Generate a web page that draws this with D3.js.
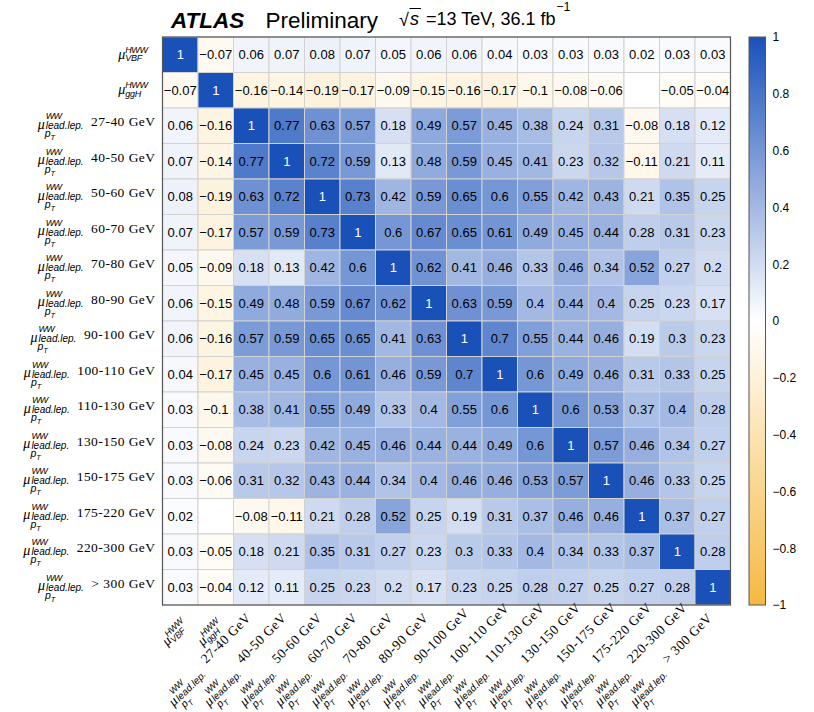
<!DOCTYPE html>
<html>
<head>
<meta charset="utf-8">
<script src="https://cdn.jsdelivr.net/npm/d3@7"></script>
<style>
  html, body { margin: 0; padding: 0; background: #fff; }
  svg { display: block; }
</style>
</head>
<body>
<svg id="chart" width="814" height="712"></svg>
<script>
// Parameters of the fit: two signal strengths, then the leading-lepton pT bins.
const signalParams = ["VBF", "ggH"];
const ptBins = ["27-40 GeV", "40-50 GeV", "50-60 GeV", "60-70 GeV", "70-80 GeV",
  "80-90 GeV", "90-100 GeV", "100-110 GeV", "110-130 GeV", "130-150 GeV",
  "150-175 GeV", "175-220 GeV", "220-300 GeV", "> 300 GeV"];

// Correlation coefficients, one row per parameter (null = empty cell).
const corrRows = [
  [1, -0.07, 0.06, 0.07, 0.08, 0.07, 0.05, 0.06, 0.06, 0.04, 0.03, 0.03, 0.03, 0.02, 0.03, 0.03],
  [-0.07, 1, -0.16, -0.14, -0.19, -0.17, -0.09, -0.15, -0.16, -0.17, -0.1, -0.08, -0.06, null, -0.05, -0.04],
  [0.06, -0.16, 1, 0.77, 0.63, 0.57, 0.18, 0.49, 0.57, 0.45, 0.38, 0.24, 0.31, -0.08, 0.18, 0.12],
  [0.07, -0.14, 0.77, 1, 0.72, 0.59, 0.13, 0.48, 0.59, 0.45, 0.41, 0.23, 0.32, -0.11, 0.21, 0.11],
  [0.08, -0.19, 0.63, 0.72, 1, 0.73, 0.42, 0.59, 0.65, 0.6, 0.55, 0.42, 0.43, 0.21, 0.35, 0.25],
  [0.07, -0.17, 0.57, 0.59, 0.73, 1, 0.6, 0.67, 0.65, 0.61, 0.49, 0.45, 0.44, 0.28, 0.31, 0.23],
  [0.05, -0.09, 0.18, 0.13, 0.42, 0.6, 1, 0.62, 0.41, 0.46, 0.33, 0.46, 0.34, 0.52, 0.27, 0.2],
  [0.06, -0.15, 0.49, 0.48, 0.59, 0.67, 0.62, 1, 0.63, 0.59, 0.4, 0.44, 0.4, 0.25, 0.23, 0.17],
  [0.06, -0.16, 0.57, 0.59, 0.65, 0.65, 0.41, 0.63, 1, 0.7, 0.55, 0.44, 0.46, 0.19, 0.3, 0.23],
  [0.04, -0.17, 0.45, 0.45, 0.6, 0.61, 0.46, 0.59, 0.7, 1, 0.6, 0.49, 0.46, 0.31, 0.33, 0.25],
  [0.03, -0.1, 0.38, 0.41, 0.55, 0.49, 0.33, 0.4, 0.55, 0.6, 1, 0.6, 0.53, 0.37, 0.4, 0.28],
  [0.03, -0.08, 0.24, 0.23, 0.42, 0.45, 0.46, 0.44, 0.44, 0.49, 0.6, 1, 0.57, 0.46, 0.34, 0.27],
  [0.03, -0.06, 0.31, 0.32, 0.43, 0.44, 0.34, 0.4, 0.46, 0.46, 0.53, 0.57, 1, 0.46, 0.33, 0.25],
  [0.02, null, -0.08, -0.11, 0.21, 0.28, 0.52, 0.25, 0.19, 0.31, 0.37, 0.46, 0.46, 1, 0.37, 0.27],
  [0.03, -0.05, 0.18, 0.21, 0.35, 0.31, 0.27, 0.23, 0.3, 0.33, 0.4, 0.34, 0.33, 0.37, 1, 0.28],
  [0.03, -0.04, 0.12, 0.11, 0.25, 0.23, 0.2, 0.17, 0.23, 0.25, 0.28, 0.27, 0.25, 0.27, 0.28, 1]
];

const colorTicks = [1, 0.8, 0.6, 0.4, 0.2, 0, -0.2, -0.4, -0.6, -0.8, -1];

// Every parameter, in matrix order.
const params = [
  ...signalParams.map(p => ({ kind: "signal", name: p })),
  ...ptBins.map(b => ({ kind: "pt", name: b }))
];
const ids = params.map((p, i) => i);

const svg = d3.select("#chart");
const SANS = "'Liberation Sans', Arial, Helvetica, sans-serif";
const SERIF = "'Liberation Serif', 'Times New Roman', serif";
const minus = s => s.replace(/-/g, "\u2212");

// Matrix area
const box = { left: 162.5, top: 37, right: 730.5, bottom: 605 };
const x = d3.scaleBand().domain(ids).range([box.left, box.right]);
const y = d3.scaleBand().domain(ids).range([box.top, box.bottom]);

const color = d3.scaleLinear()
  .domain([-1, 0, 1])
  .range(["#f5b942", "#ffffff", "#1a51b9"])
  .interpolate(d3.interpolateRgb);

const cells = [];
corrRows.forEach((row, r) => row.forEach((v, c) => cells.push({ r, c, v })));

const gCells = svg.append("g");
gCells.selectAll("rect")
  .data(cells)
  .join("rect")
  .attr("x", d => x(d.c))
  .attr("y", d => y(d.r))
  .attr("width", x.bandwidth())
  .attr("height", y.bandwidth())
  .attr("fill", d => d.v === null ? "#ffffff" : color(d.v))
  .attr("stroke", "#d2d2d2")
  .attr("stroke-width", 1);

gCells.selectAll("text")
  .data(cells.filter(d => d.v !== null))
  .join("text")
  .attr("x", d => x(d.c) + x.bandwidth() / 2)
  .attr("y", d => y(d.r) + y.bandwidth() / 2)
  .attr("dy", "0.36em")
  .attr("text-anchor", "middle")
  .attr("font-family", SANS)
  .attr("font-size", 13)
  .attr("fill", d => d.v >= 0.9 ? "#ffffff" : "#000000")
  .text(d => minus(String(d.v)));

// Frame around the matrix
svg.append("rect")
  .attr("x", box.left).attr("y", box.top)
  .attr("width", box.right - box.left).attr("height", box.bottom - box.top)
  .attr("fill", "none").attr("stroke", "#555").attr("stroke-width", 1.2);

// Builds a parameter label left to right from x = 0; row centre at y = 0.
// `raise` lifts the GeV range above the mu block. Returns the total width.
function buildLabel(g, p, raise = 0) {
  const add = (txt, xx, yy, size, opts = {}) => {
    const t = g.append("text")
      .attr("x", xx).attr("y", yy)
      .attr("font-family", opts.family || SANS)
      .attr("font-size", size)
      .attr("font-style", opts.italic ? "italic" : "normal")
      .attr("fill", "#000")
      .text(txt);
    if (opts.spacing) t.attr("letter-spacing", opts.spacing);
    return t;
  };
  if (p.kind === "signal") {
    const mu = add("\u03bc", 0, 4, 14, { family: SERIF, italic: true });
    const mw = mu.node().getComputedTextLength();
    const x0 = mw;
    const sup = add("HWW", x0, -2, 9, { italic: true, spacing: -0.4 });
    const sub = add(p.name, x0, 6.5, 9, { italic: true, spacing: -0.2 });
    return x0 + Math.max(sup.node().getComputedTextLength(), sub.node().getComputedTextLength());
  }
  const mu = add("\u03bc", 0, 3, 14, { family: SERIF, italic: true });
  const mw = mu.node().getComputedTextLength();
  const x0 = mw + 1;
  add("WW", x0, -6.5, 9, { italic: true, spacing: -0.7 });
  const lead = add("lead.lep.", x0, 3.5, 10, { italic: true });
  add("p", x0 - 1, 11.5, 10.5, { italic: true });
  add("T", x0 + 4.8, 14.5, 7.5, { italic: true });
  const xr = x0 + lead.node().getComputedTextLength() + 7.5;
  const rng = add(p.name, xr, 0.5 - raise, 13.5, { family: SERIF, spacing: 0.45 });
  return xr + rng.node().getComputedTextLength();
}

// Row labels, right-aligned against the matrix
params.forEach((p, i) => {
  const g = svg.append("g");
  const w = buildLabel(g, p);
  const end = p.kind === "signal" ? 147.5 : 155.5;
  g.attr("transform", `translate(${end - w},${y(i) + y.bandwidth() / 2})`);
});

// Column labels, rotated by 45 degrees
params.forEach((p, i) => {
  const g = svg.append("g");
  const cx = x(i) + x.bandwidth() / 2;
  if (p.kind === "signal") {
    // anchored at the end of the label
    const w = buildLabel(g, p);
    g.attr("transform", `translate(${cx + 5},${box.bottom + 18}) rotate(-45) translate(${-w},0)`);
  } else {
    // anchored at the start of the label
    buildLabel(g, p, 5);
    g.attr("transform", `translate(${cx - 79.6},${box.bottom + 100}) rotate(-45)`);
  }
});

// Colour bar
const bar = { x: 749, w: 16.5 };
const cy = d3.scaleLinear().domain([-1, 1]).range([box.bottom, box.top]);
const defs = svg.append("defs");
const grad = defs.append("linearGradient")
  .attr("id", "zgrad").attr("x1", 0).attr("y1", 1).attr("x2", 0).attr("y2", 0);
d3.range(-1, 1.0001, 0.1).forEach(v => {
  grad.append("stop")
    .attr("offset", (v + 1) / 2)
    .attr("stop-color", color(Math.max(-1, Math.min(1, v))));
});
svg.append("rect")
  .attr("x", bar.x).attr("y", cy(1))
  .attr("width", bar.w).attr("height", cy(-1) - cy(1))
  .attr("fill", "url(#zgrad)")
  .attr("stroke", "#555").attr("stroke-width", 1);

const axis = d3.axisRight(cy)
  .tickValues(colorTicks)
  .tickSize(0)
  .tickPadding(7)
  .tickFormat(d => minus(String(d)));
const gAxis = svg.append("g")
  .attr("transform", `translate(${bar.x + bar.w},0)`)
  .call(axis);
gAxis.select(".domain").remove();
gAxis.selectAll("text")
  .attr("font-family", SANS)
  .attr("font-size", 12)
  .attr("fill", "#000");

// Header
const head = svg.append("g").attr("font-family", SANS).attr("fill", "#000");
head.append("text")
  .attr("x", 171).attr("y", 27.5)
  .attr("font-size", 22.5).attr("font-weight", "bold").attr("font-style", "italic")
  .text("ATLAS");
head.append("text")
  .attr("x", 265.5).attr("y", 27.5)
  .attr("font-size", 22.5)
  .text("Preliminary");
head.append("text")
  .attr("x", 399).attr("y", 26)
  .attr("font-size", 18)
  .text("\u221a");
head.append("line")
  .attr("x1", 409.5).attr("x2", 421).attr("y1", 8.5).attr("y2", 8.5)
  .attr("stroke", "#000").attr("stroke-width", 1);
head.append("text")
  .attr("x", 410).attr("y", 25)
  .attr("font-size", 18).attr("font-style", "italic")
  .text("s");
const energy = head.append("text")
  .attr("x", 426).attr("y", 25)
  .attr("font-size", 18)
  .text("=13 TeV, 36.1 fb");
const ew = energy.node().getComputedTextLength();
head.append("text")
  .attr("x", 426 + ew + 0.5).attr("y", 11)
  .attr("font-size", 12.5)
  .text("\u22121");
</script>
</body>
</html>
